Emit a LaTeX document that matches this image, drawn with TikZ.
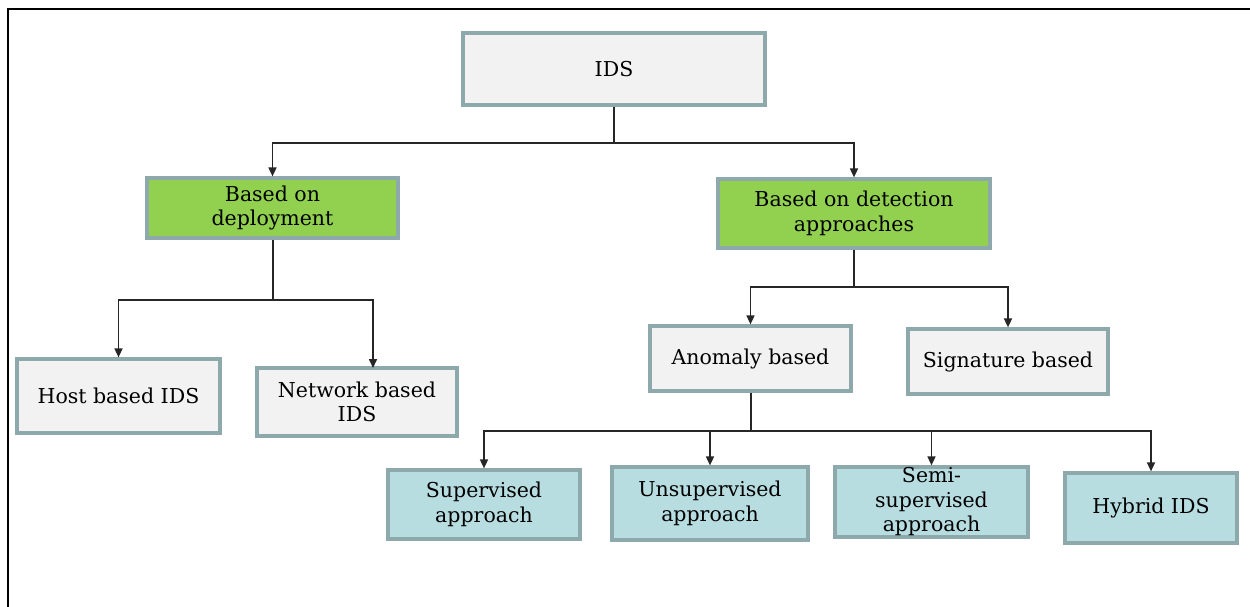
\documentclass[tikz,border=0pt]{standalone}
\usepackage{fontspec}
\setmainfont{DejaVu Serif}
\usetikzlibrary{arrows.meta}
\definecolor{boxline}{HTML}{8EA9AC}
\definecolor{boxgray}{HTML}{F2F2F2}
\definecolor{boxgreen}{HTML}{92D050}
\definecolor{boxblue}{HTML}{B7DDE1}
\tikzset{
  box/.style={draw=boxline, line width=3.2pt, align=center, inner sep=0pt,
    font=\fontsize{20.5}{24.5}\selectfont, text=black},
  graybox/.style={box, fill=boxgray},
  greenbox/.style={box, fill=boxgreen},
  bluebox/.style={box, fill=boxblue},
  link/.style={line width=1.6pt, draw=black!85},
  arr/.style={link, -{Triangle[length=9pt,width=8pt]}}
}
\begin{document}
\begin{tikzpicture}[x=1pt,y=-1pt]
\useasboundingbox (0,0) rectangle (1250,607);
% outer frame
\draw[line width=2.2pt] (8,607) -- (8,9) -- (1250,9);

% boxes
\node[graybox, minimum width=302pt, minimum height=72pt] (ids) at (614,69) {IDS};
\node[greenbox, minimum width=251pt, minimum height=60pt] (dep) at (272.5,208) {Based on\\deployment};
\node[greenbox, minimum width=272pt, minimum height=69pt] (det) at (854,213.5) {Based on detection\\approaches};
\node[graybox, minimum width=203pt, minimum height=74pt] (host) at (118.5,396) {Host based IDS};
\node[graybox, minimum width=200pt, minimum height=68pt] (net) at (357,402) {Network based\\IDS};
\node[graybox, minimum width=201pt, minimum height=65pt] (anom) at (750.5,358.5) {Anomaly based};
\node[graybox, minimum width=200pt, minimum height=65pt] (sig) at (1008,361.5) {Signature based};
\node[bluebox, minimum width=192pt, minimum height=69pt] (sup) at (484,504.5) {Supervised\\approach};
\node[bluebox, minimum width=196pt, minimum height=73pt] (unsup) at (710,503.5) {Unsupervised\\approach};
\node[bluebox, minimum width=193pt, minimum height=70pt] (semi) at (931.5,502) {Semi-\\supervised\\approach};
\node[bluebox, minimum width=172pt, minimum height=70pt] (hyb) at (1151,508) {Hybrid IDS};

% junction points
\coordinate (j1) at (614,143);
\coordinate (j2) at (273,300);
\coordinate (j3) at (854,287);
\coordinate (j4) at (751,431);
\coordinate (netin) at (373,368);

% connectors
\draw[link] (ids.south) -- (j1);
\draw[arr] (j1) -| (dep.north);
\draw[arr] (j1) -| (det.north);

\draw[link] (dep.south -| j2) -- (j2);
\draw[arr] (j2) -| (host.north);
\draw[arr] (j2) -| (netin);

\draw[link] (det.south) -- (j3);
\draw[arr] (j3) -| (anom.north);
\draw[arr] (j3) -| (sig.north);

\draw[link] (anom.south -| j4) -- (j4);
\draw[arr] (j4) -| (sup.north);
\draw[arr] (j4) -| (unsup.north);
\draw[arr] (j4) -| (semi.north);
\draw[arr] (j4) -| (hyb.north);
\end{tikzpicture}
\end{document}
